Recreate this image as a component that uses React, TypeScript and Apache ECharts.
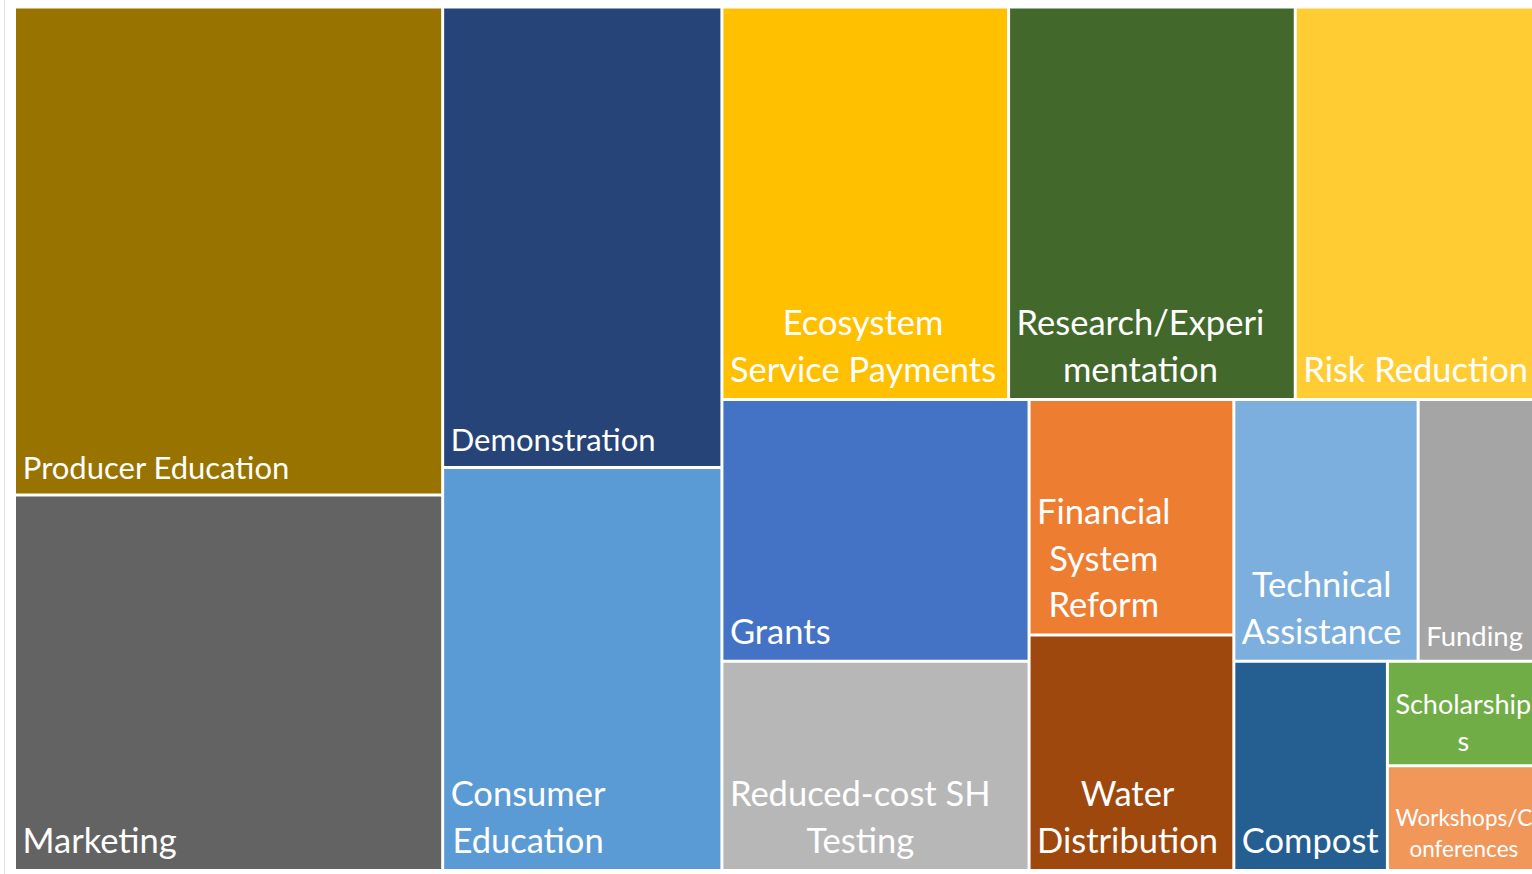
import React, { useEffect, useRef } from "react";
import * as echarts from "echarts";

// ---- data ----
const categories = [
  "Producer Education",
  "Marketing",
  "Demonstration",
  "Consumer Education",
  "Ecosystem Service Payments",
  "Research/Experimentation",
  "Risk Reduction",
  "Grants",
  "Reduced-cost SH Testing",
  "Financial System Reform",
  "Water Distribution",
  "Technical Assistance",
  "Funding",
  "Compost",
  "Scholarships",
  "Workshops/Conferences",
];
const counts = [13, 10, 8, 7, 7, 7, 6, 5, 4, 3, 3, 3, 2, 2, 1, 1];

// how each label wraps inside its tile (as in the reference)
const labelLines: string[][] = [
  ["Producer Education"],
  ["Marketing"],
  ["Demonstration"],
  ["Consumer", "Education"],
  ["Ecosystem", "Service Payments"],
  ["Research/Experi", "mentation"],
  ["Risk Reduction"],
  ["Grants"],
  ["Reduced-cost SH", "Testing"],
  ["Financial", "System", "Reform"],
  ["Water", "Distribution"],
  ["Technical", "Assistance"],
  ["Funding"],
  ["Compost"],
  ["Scholarship", "s"],
  ["Workshops/C", "onferences"],
];

// ---- styles ----
const colors = [
  "#997300", "#636363", "#264478", "#5B9BD5", "#FFC000", "#43682B", "#FFCD33", "#4472C4",
  "#B7B7B7", "#ED7D31", "#9E480E", "#7CAFDD", "#A5A5A5", "#255E91", "#70AD47", "#F1975A",
];
const FONT_FAMILY = 'Lato, "Noto Sans", sans-serif';
const BASE_FONT = 34.5;
const fontOverrides: Record<string, number> = {
  "Producer Education": 31,
  Demonstration: 31,
  Funding: 27.5,
  Scholarships: 27,
  "Workshops/Conferences": 22.5,
};
const TARGET_RATIO = 0.8; // preferred tile width / height
const GAP = 1.5;

type Rect = { x: number; y: number; w: number; h: number };

function squarify(values: number[], W: number, H: number): Rect[] {
  const order = values.map((_, i) => i).sort((a, b) => values[b] - values[a] || a - b);
  const total = values.reduce((s, v) => s + v, 0);
  const scale = (W * H) / total;
  const out: Rect[] = new Array(values.length);
  let rect: Rect = { x: 0, y: 0, w: W, h: H };

  const worst = (row: number[], r: Rect) => {
    const area = row.reduce((s, i) => s + values[i], 0) * scale;
    const vertical = r.w >= r.h;
    const t = vertical ? area / r.h : area / r.w;
    let w = 0;
    for (const i of row) {
      const len = (values[i] * scale) / t;
      const aspect = vertical ? t / len : len / t;
      w = Math.max(w, aspect / TARGET_RATIO, TARGET_RATIO / aspect);
    }
    return w;
  };

  let i = 0;
  while (i < order.length) {
    let row = [order[i]];
    let best = worst(row, rect);
    i++;
    while (i < order.length) {
      const cand = [...row, order[i]];
      const s = worst(cand, rect);
      if (s <= best) {
        row = cand;
        best = s;
        i++;
      } else break;
    }
    const area = row.reduce((s, k) => s + values[k], 0) * scale;
    if (rect.w >= rect.h) {
      const t = area / rect.h;
      let y = rect.y;
      for (const k of row) {
        const h = (values[k] * scale) / t;
        out[k] = { x: rect.x, y, w: t, h };
        y += h;
      }
      rect = { x: rect.x + t, y: rect.y, w: rect.w - t, h: rect.h };
    } else {
      const t = area / rect.w;
      let x = rect.x;
      for (const k of row) {
        const w = (values[k] * scale) / t;
        out[k] = { x, y: rect.y, w, h: t };
        x += w;
      }
      rect = { x: rect.x, y: rect.y + t, w: rect.w, h: rect.h - t };
    }
  }
  return out;
}

let measureCtx: CanvasRenderingContext2D | null = null;
function measure(text: string, size: number): number {
  if (!measureCtx) measureCtx = document.createElement("canvas").getContext("2d");
  if (!measureCtx) return text.length * size * 0.5;
  measureCtx.font = `${size}px ${FONT_FAMILY}`;
  return measureCtx.measureText(text).width;
}

export default function App() {
  const ref = useRef<HTMLDivElement>(null);

  useEffect(() => {
    if (!ref.current) return;
    document.body.style.overflow = "hidden";
    const chart = echarts.init(ref.current, null, { renderer: "svg" });
    let cache: { key: string; rects: Rect[] } | null = null;

    const option: any = {
      animation: false,
      backgroundColor: "#ffffff",
      grid: { left: 14.5, top: 7, width: 1526.5, height: 863.5 },
      xAxis: { type: "value", min: 0, max: 1, show: false },
      yAxis: { type: "value", min: 0, max: 1, inverse: true, show: false },
      graphic: [
        {
          type: "line",
          shape: { x1: 4.5, y1: 0, x2: 4.5, y2: 874 },
          style: { stroke: "#e6e6e6", lineWidth: 1 },
          silent: true,
        },
      ],
      series: [
        {
          type: "custom",
          coordinateSystem: "cartesian2d",
          clip: false,
          data: counts.map((v, i) => ({ name: categories[i], value: [i, v] })),
          renderItem: (params: any, api: any) => {
            const idx = params.dataIndex;
            const cs = params.coordSys;
            const key = `${cs.width}x${cs.height}`;
            if (!cache || cache.key !== key) {
              cache = { key, rects: squarify(counts, cs.width, cs.height) };
            }
            const r = cache.rects[idx];
            const p0 = api.coord([r.x / cs.width, r.y / cs.height]);
            const p1 = api.coord([(r.x + r.w) / cs.width, (r.y + r.h) / cs.height]);
            const x0 = Math.min(p0[0], p1[0]) + GAP;
            const x1 = Math.max(p0[0], p1[0]) - GAP;
            const y0 = Math.min(p0[1], p1[1]) + GAP;
            const y1 = Math.max(p0[1], p1[1]) - GAP;

            const size = fontOverrides[categories[idx]] ?? BASE_FONT;
            const lines = labelLines[idx];
            const lineH = size * 1.36;
            const blockW = Math.max(...lines.map((l) => measure(l, size)));
            const cx = x0 + 6.5 + blockW / 2;
            const lastBaseline = y1 - (4.25 + 0.433 * size);
            const children: any[] = [
              {
                type: "rect",
                shape: { x: x0, y: y0, width: x1 - x0, height: y1 - y0 },
                style: { fill: colors[idx] },
              },
            ];
            lines.forEach((line, j) => {
              const baseline = lastBaseline - (lines.length - 1 - j) * lineH;
              children.push({
                type: "text",
                x: cx,
                y: baseline - size * 0.3,
                style: {
                  text: line,
                  fill: "#ffffff",
                  font: `${size}px ${FONT_FAMILY}`,
                  align: "center",
                  verticalAlign: "middle",
                },
              });
            });
            return { type: "group", children };
          },
        },
      ],
    };
    chart.setOption(option);
    return () => chart.dispose();
  }, []);

  return (
    <div
      ref={ref}
      style={{ position: "fixed", left: 0, top: 0, width: 1545, height: 874, background: "#fff" }}
    />
  );
}
